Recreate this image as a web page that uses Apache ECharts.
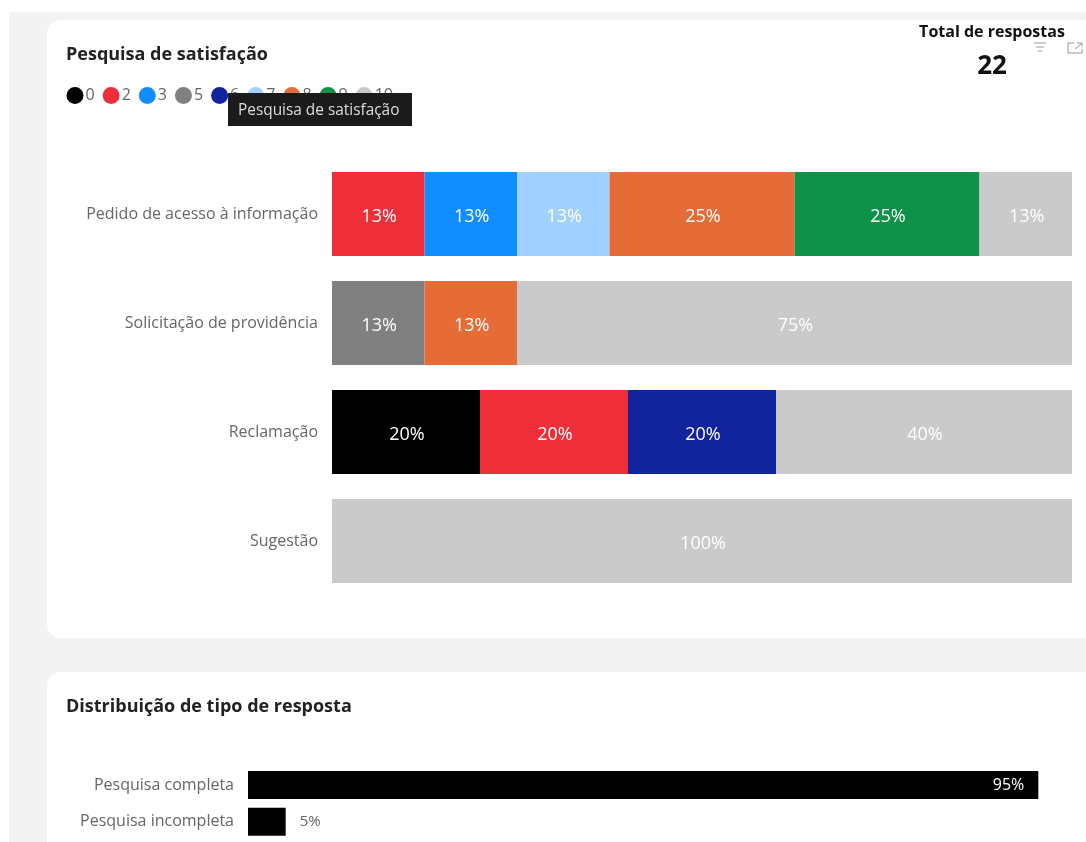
<!DOCTYPE html>
<html lang="pt">
<head>
<meta charset="utf-8">
<title>Pesquisa de satisfação</title>
<script src="https://cdn.jsdelivr.net/npm/echarts@6/dist/echarts.min.js"></script>
<style>
  html, body { margin: 0; padding: 0; background: #fff; }
  #chart { width: 1086px; height: 842px; }
</style>
</head>
<body>
<div id="chart"></div>
<script>
// Satisfaction answers per request type, as a share of each row (%)
const requestTypes = ['Pedido de acesso à informação', 'Solicitação de providência', 'Reclamação', 'Sugestão'];
const score0 = [null, null, 20, null];
const score2 = [12.5, null, 20, null];
const score3 = [12.5, null, null, null];
const score5 = [null, 12.5, null, null];
const score6 = [null, null, 20, null];
const score7 = [12.5, null, null, null];
const score8 = [25, 12.5, null, null];
const score9 = [25, null, null, null];
const score10 = [12.5, 75, 40, 100];

// Response completeness, 21 and 1 of the 22 answers (%)
const responseTypes = ['Pesquisa completa', 'Pesquisa incompleta'];
const responseShare = [95.45, 4.55];

const scoreNames = ['0', '2', '3', '5', '6', '7', '8', '9', '10'];
const scoreValues = [score0, score2, score3, score5, score6, score7, score8, score9, score10];
const scoreColors = ['#000000', '#ee2e38', '#118dff', '#808080', '#12239e', '#a0d1ff', '#e66c37', '#0f9149', '#cacaca'];

const uiFont = '"Open Sans", "Noto Sans", sans-serif';
const percent = p => Math.round(p.value) + '%';

const chart = echarts.init(document.getElementById('chart'), null, { renderer: 'canvas' });

const stacked = scoreNames.map((name, i) => ({
  name,
  type: 'bar',
  stack: 'score',
  xAxisIndex: 0,
  yAxisIndex: 0,
  barWidth: 84,
  data: scoreValues[i],
  itemStyle: { color: scoreColors[i] },
  label: { show: true, position: 'inside', offset: [1, 3], color: '#fff', fontFamily: uiFont, fontSize: 18, formatter: percent }
}));

const responses = {
  name: 'Resposta',
  type: 'bar',
  xAxisIndex: 1,
  yAxisIndex: 1,
  barWidth: 28,
  itemStyle: { color: '#000' },
  data: responseShare.map((value, i) => ({
    value,
    label: i === 0
      ? { show: true, position: 'insideRight', distance: 14, color: '#fff', fontFamily: uiFont, fontSize: 16, formatter: percent }
      : { show: true, position: 'right', distance: 14, color: '#666', fontFamily: uiFont, fontSize: 15, formatter: percent }
  }))
};

const categoryAxis = (gridIndex, data, padTop) => ({
  type: 'category',
  gridIndex,
  data,
  inverse: true,
  axisLine: { show: false },
  axisTick: { show: false },
  axisLabel: { color: '#666', fontFamily: uiFont, fontSize: 16, margin: 14, padding: [padTop, 0, 0, 0] }
});
const valueAxis = gridIndex => ({ type: 'value', gridIndex, min: 0, max: 100, show: false });

chart.setOption({
  animation: false,
  backgroundColor: '#fff',
  title: [
    { text: 'Pesquisa de satisfação', left: 61, top: 41, textStyle: { color: '#222', fontFamily: uiFont, fontSize: 18, fontWeight: 'bold' } },
    { text: 'Distribuição de tipo de resposta', left: 61, top: 693, textStyle: { color: '#222', fontFamily: uiFont, fontSize: 18, fontWeight: 'bold' } }
  ],
  legend: {
    data: scoreNames,
    left: 66.5,
    top: 87,
    padding: 0,
    icon: 'circle',
    itemWidth: 17,
    itemHeight: 17,
    itemGap: 8,
    textStyle: { color: '#666', fontFamily: uiFont, fontSize: 16, padding: [0, 0, 0, -3] }
  },
  grid: [
    { left: 332, top: 159.5, width: 740, height: 436 },
    { left: 248, top: 766.7, width: 828, height: 73.4 }
  ],
  xAxis: [valueAxis(0), valueAxis(1)],
  yAxis: [
    categoryAxis(0, requestTypes, 12),
    categoryAxis(1, responseTypes, 5)
  ],
  series: [...stacked, responses],
  graphic: [
    // Page background and the two cards
    { type: 'rect', z: -10, silent: true, shape: { x: 9, y: 12, width: 1077, height: 830 }, style: { fill: '#f3f3f3' } },
    { type: 'rect', z: -9, silent: true, shape: { x: 47, y: 20, width: 1050, height: 618, r: 14 }, style: { fill: '#fff' } },
    { type: 'rect', z: -9, silent: true, shape: { x: 47, y: 672, width: 1050, height: 200, r: 14 }, style: { fill: '#fff' } },
    // Response counter
    { type: 'text', z: 20, silent: true, style: { x: 992, y: 32, text: 'Total de respostas', align: 'center', verticalAlign: 'middle', fill: '#111', font: 'bold 16px ' + uiFont } },
    { type: 'text', z: 20, silent: true, style: { x: 992, y: 67, text: '22', align: 'center', verticalAlign: 'middle', fill: '#111', font: 'bold 26px ' + uiFont } },
    // Filter icon
    { type: 'line', z: 20, silent: true, shape: { x1: 1034, y1: 43, x2: 1046, y2: 43 }, style: { stroke: '#999', lineWidth: 1 } },
    { type: 'line', z: 20, silent: true, shape: { x1: 1036, y1: 47, x2: 1044, y2: 47 }, style: { stroke: '#999', lineWidth: 1 } },
    { type: 'line', z: 20, silent: true, shape: { x1: 1038, y1: 51, x2: 1042, y2: 51 }, style: { stroke: '#999', lineWidth: 1 } },
    // Expand icon
    { type: 'polyline', z: 20, silent: true, shape: { points: [[1074, 43], [1068, 43], [1068, 53], [1082, 53], [1082, 49]] }, style: { fill: 'none', stroke: '#999', lineWidth: 1 } },
    { type: 'polyline', z: 20, silent: true, shape: { points: [[1077, 43], [1082, 43], [1082, 47]] }, style: { fill: 'none', stroke: '#999', lineWidth: 1 } },
    { type: 'line', z: 20, silent: true, shape: { x1: 1075, y1: 49, x2: 1081, y2: 44 }, style: { stroke: '#999', lineWidth: 1 } },
    // Hover hint above the legend
    { type: 'rect', z: 30, silent: true, shape: { x: 228, y: 93, width: 184, height: 33 }, style: { fill: '#1b1b1b' } },
    { type: 'text', z: 31, silent: true, style: { x: 238, y: 111, text: 'Pesquisa de satisfação', verticalAlign: 'middle', fill: '#ddd', font: '15.4px ' + uiFont } }
  ]
});
</script>
</body>
</html>
